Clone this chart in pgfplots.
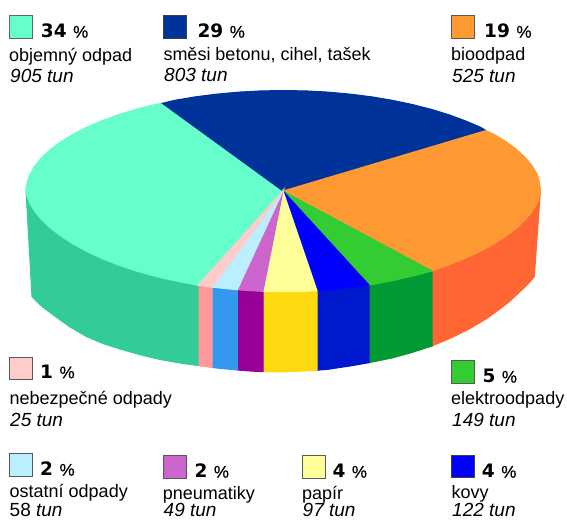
\documentclass[border=0pt]{standalone}
\usepackage{pgfplots}
\pgfplotsset{compat=1.18}
\usepackage{fontspec}
\setmainfont{Liberation Sans}
\newfontfamily\heavy{DejaVu Sans}
\newfontfamily\pctfont[FakeBold=0.5]{Liberation Sans}
\definecolor{cMint}{HTML}{66FFCC}\definecolor{sMint}{HTML}{33CC99}
\definecolor{cNavy}{HTML}{003399}
\definecolor{cOrange}{HTML}{FF9933}\definecolor{sOrange}{HTML}{FF6633}
\definecolor{cGreen}{HTML}{33CC33}\definecolor{sGreen}{HTML}{009933}
\definecolor{cBlue}{HTML}{0000FF}\definecolor{sBlue}{HTML}{0019CC}
\definecolor{cYellow}{HTML}{FFFF99}\definecolor{sYellow}{HTML}{FFD90F}
\definecolor{cPurple}{HTML}{CC66CC}\definecolor{sPurple}{HTML}{990099}
\definecolor{cLight}{HTML}{BBEEFF}\definecolor{sLight}{HTML}{3399EE}
\definecolor{cPink}{HTML}{FFCCCC}\definecolor{sPink}{HTML}{FF9999}
\newcommand{\pct}[3]{\node[anchor=base west,inner sep=0pt] at (axis cs:#1,#2) {\fontsize{18.5}{20}\selectfont\heavy\bfseries #3\hspace{6.5pt}\fontsize{17}{18}\selectfont\normalfont\pctfont \%};}
\newcommand{\txt}[3]{\node[anchor=base west,inner sep=0pt] at (axis cs:#1,#2) {\fontsize{18}{20}\selectfont #3};}
\newcommand{\tun}[3]{\node[anchor=base west,inner sep=0pt] at (axis cs:#1,#2) {\fontsize{19}{20}\selectfont\itshape #3 tun};}
\begin{document}
\begin{tikzpicture}
\path (0,0) rectangle (567pt,520pt);
\begin{axis}[
  at={(0,0)},anchor=south west,
  width=567pt,height=520pt,scale only axis,
  xmin=0,xmax=567,ymin=0,ymax=520,y dir=reverse,
  hide axis,clip=false,no markers,
  every axis plot/.append style={line width=0.25pt},
]
% sides
\addplot[fill=sOrange,draw=sOrange] coordinates {(540.5,190)(539.5,196.1)(537.1,203.6)(532.2,211.5)(525.5,219.6)(516.9,227.8)(506.5,235.8)(494.4,243.7)(480.8,251.2)(465.6,258.3)(449,264.9)(432,271)(432,346)(452,337.5)(470,328.5)(486,319)(500,309)(510,301)(520,291.7)(528,284)(534.3,276.7)} -- cycle;
\addplot[fill=sGreen,draw=sGreen] coordinates {(432,271)(412.3,276.2)(392.3,280.8)(371.6,284.7)(369,285)(369,362.7)(392,358)(412,352.5)(432,346)} -- cycle;
\addplot[fill=sBlue,draw=sBlue] coordinates {(369,285)(350.1,287.7)(328.2,289.9)(317,290.6)(317,370.2)(328,369.3)(350,366)(369,362.7)} -- cycle;
\addplot[fill=sYellow,draw=sYellow] coordinates {(317,290.6)(306,291.3)(283.5,291.7)(263,291.4)(263,371.7)(283.5,371.9)(306,371)(317,370.2)} -- cycle;
\addplot[fill=sPurple,draw=sPurple] coordinates {(263,291.4)(261,291.3)(237.3,289.8)(237.3,370)(250,371)(263,371.7)} -- cycle;
\addplot[fill=sLight,draw=sLight] coordinates {(237.3,289.8)(216.9,287.7)(212,287.2)(212,367.5)(225,368.9)(237.3,370)} -- cycle;
\addplot[fill=sPink,draw=sPink] coordinates {(212,287.2)(198,285.3)(198,365.6)(212,367.5)} -- cycle;
\addplot[fill=sMint,draw=sMint] coordinates {(198,285.3)(195.4,284.7)(174.7,280.8)(154.8,276.2)(135.8,270.9)(118,264.9)(101.4,258.3)(86.2,251.2)(72.6,243.7)(60.5,235.8)(50.1,227.8)(41.5,219.6)(34.8,211.5)(29.9,203.6)(27,196.1)(26,190)(32,296.7)(42,306.5)(53.3,315)(70,327)(86.7,336.7)(103,343.5)(120,349)(140,354.7)(160,359.5)(180,363)(198,365.6)} -- cycle;
% top
\addplot[fill=cMint,draw=cMint] coordinates {(283,191)(198,285.3)(195.4,284.7)(174.7,280.8)(154.8,276.2)(135.8,270.9)(118,264.9)(101.4,258.3)(86.2,251.2)(72.6,243.7)(60.5,235.8)(50.1,227.8)(41.5,219.6)(34.8,211.5)(29.9,203.6)(27,196.1)(26,190)(27,182.3)(29.9,174.2)(34.8,165.9)(41.5,157.7)(50.1,149.7)(60.5,141.9)(72.6,134.5)(86.2,127.4)(101.4,120.9)(118,114.8)(135.8,109.3)(154.8,104.5)(162.3,103.3)} -- cycle;
\addplot[fill=cNavy,draw=cNavy] coordinates {(283,191)(162.3,103.3)(174.7,100.3)(195.4,96.8)(216.9,94.1)(238.8,92.1)(261,90.9)(283.5,90.5)(306,90.9)(328.2,92.1)(350.1,94.1)(371.6,96.8)(392.3,100.3)(412.3,104.5)(431.2,109.3)(449,114.8)(465.6,120.9)(480.8,127.4)(486,130.5)} -- cycle;
\addplot[fill=cOrange,draw=cOrange] coordinates {(283,191)(486,130.5)(494.4,134.5)(506.5,141.9)(516.9,149.7)(525.5,157.7)(532.2,165.9)(537.1,174.2)(539.5,182.3)(540.5,190)(539.5,196.1)(537.1,203.6)(532.2,211.5)(525.5,219.6)(516.9,227.8)(506.5,235.8)(494.4,243.7)(480.8,251.2)(465.6,258.3)(449,264.9)(432,271)} -- cycle;
\addplot[fill=cGreen,draw=cGreen] coordinates {(283,191)(432,271)(412.3,276.2)(392.3,280.8)(371.6,284.7)(369,285)} -- cycle;
\addplot[fill=cBlue,draw=cBlue] coordinates {(283,191)(369,285)(350.1,287.7)(328.2,289.9)(317,290.6)} -- cycle;
\addplot[fill=cYellow,draw=cYellow] coordinates {(283,191)(317,290.6)(306,291.3)(283.5,291.7)(263,291.4)} -- cycle;
\addplot[fill=cPurple,draw=cPurple] coordinates {(283,191)(263,291.4)(261,291.3)(237.3,289.8)} -- cycle;
\addplot[fill=cLight,draw=cLight] coordinates {(283,191)(237.3,289.8)(216.9,287.7)(212,287.2)} -- cycle;
\addplot[fill=cPink,draw=cPink] coordinates {(283,191)(212,287.2)(198,285.3)} -- cycle;
% legend swatches
\pgfplotsset{every axis plot/.append style={line width=1pt}}
\addplot[fill=cMint,draw=black!60] coordinates {(9,15.5)(32,15.5)(32,38)(9,38)} -- cycle;
\addplot[fill=cNavy,draw=black!75] coordinates {(163.5,15)(186.5,15)(186.5,38)(163.5,38)} -- cycle;
\addplot[fill=cOrange,draw=black!65] coordinates {(451,15)(474,15)(474,38)(451,38)} -- cycle;
\addplot[fill=cPink,draw=black!65] coordinates {(9,357)(32,357)(32,379)(9,379)} -- cycle;
\addplot[fill=cGreen,draw=black!65] coordinates {(451,360.5)(474,360.5)(474,383)(451,383)} -- cycle;
\addplot[fill=cLight,draw=black!65] coordinates {(9,453.5)(32,453.5)(32,476.5)(9,476.5)} -- cycle;
\addplot[fill=cPurple,draw=black!65] coordinates {(163,455.5)(186,455.5)(186,478)(163,478)} -- cycle;
\addplot[fill=cYellow,draw=black!65] coordinates {(302,455.5)(325,455.5)(325,478)(302,478)} -- cycle;
\addplot[fill=cBlue,draw=black!75] coordinates {(451.5,455.5)(474.5,455.5)(474.5,477.5)(451.5,477.5)} -- cycle;
% labels
\pct{40.7}{37.7}{34}\txt{9}{61}{objemný odpad}\tun{10}{82}{905}
\pct{197.3}{37.7}{29}\txt{163.3}{60.7}{směsi betonu, cihel, tašek}\tun{164}{81.7}{803}
\pct{484}{37.7}{19}\txt{451}{60.7}{bioodpad}\tun{452}{82}{525}
\pct{40}{378.3}{1}\txt{9.5}{404.3}{nebezpečné odpady}\tun{10}{426}{25}
\pct{482.3}{382.7}{5}\txt{451}{404.3}{elektroodpady}\tun{452}{426}{149}
\pct{40}{475.7}{2}\txt{9.5}{497.7}{ostatní odpady}
\node[anchor=base west,inner sep=0pt] at (axis cs:9.5,516.5) {\fontsize{19}{20}\selectfont 58 \itshape tun};
\pct{194.3}{477.7}{2}\txt{162.7}{499.3}{pneumatiky}\tun{163.5}{516.5}{49}
\pct{332.3}{477.7}{4}\txt{302}{499.3}{papír}\tun{302.5}{516.5}{97}
\pct{481.7}{477.7}{4}\txt{451.5}{498.5}{kovy}\tun{452}{516.5}{122}
\end{axis}
\end{tikzpicture}
\end{document}
